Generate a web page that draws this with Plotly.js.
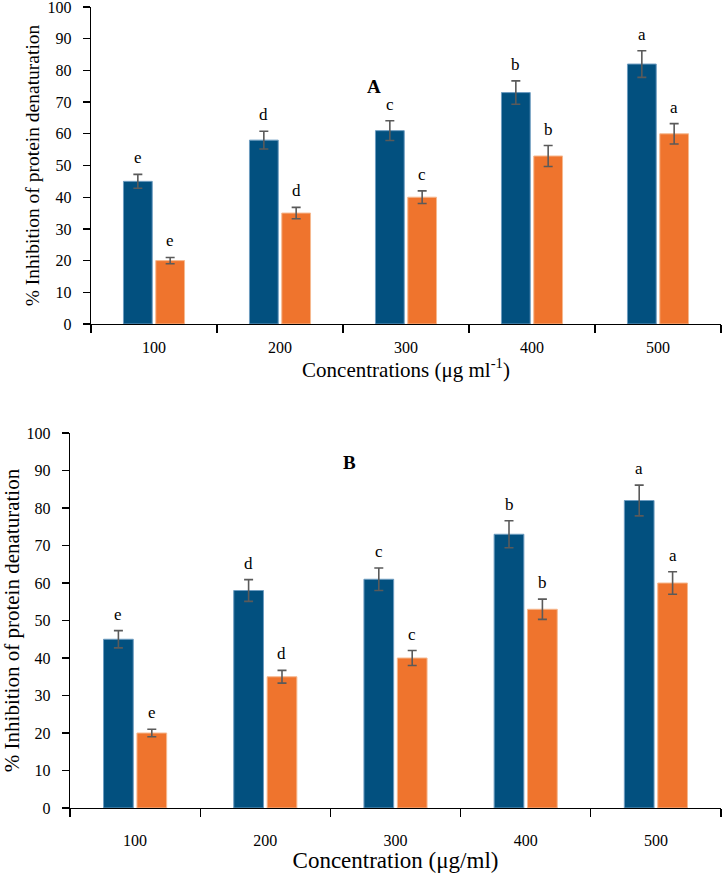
<!DOCTYPE html>
<html>
<head>
<meta charset="utf-8">
<script src="https://cdn.plot.ly/plotly-3.0.1.min.js"></script>
<style>html,body{margin:0;padding:0;background:#fff;}</style>
</head>
<body>
<div id="chart" style="width:723px;height:875px;"></div>
<script>
// Concentration categories shared by both panels
const concentrations = ['100', '200', '300', '400', '500'];

// Panel A
const panelA_series1 = [45, 58, 61, 73, 82];
const panelA_series1Err = [2.2, 2.8, 3.1, 3.7, 4.2];
const panelA_series2 = [20, 35, 40, 53, 60];
const panelA_series2Err = [1.0, 1.8, 2.0, 3.3, 3.2];

// Panel B
const panelB_series1 = [45, 58, 61, 73, 82];
const panelB_series1Err = [2.3, 2.9, 3.0, 3.6, 4.1];
const panelB_series2 = [20, 35, 40, 53, 60];
const panelB_series2Err = [1.0, 1.7, 2.0, 2.7, 3.0];

// Significance letters above each bar
const letters1 = ['e', 'd', 'c', 'b', 'a'];
const letters2 = ['e', 'd', 'c', 'b', 'a'];

const W = 723, H = 875;
const BLUE = '#02507f', ORANGE = '#ef742d', ERR = '#5a5a5a';
const FONT = 'Liberation Serif, Times New Roman, serif';
const BARGAP = 0.487, GROUPGAP = 0.11;

// plot-area pixel boxes
const boxA = {x0: 91, x1: 721, y0: 7, y1: 324};
const boxB = {x0: 70, x1: 721, y0: 433, y1: 808};

function xDom(b) { return [b.x0 / W, b.x1 / W]; }
function yDom(b) { return [1 - b.y1 / H, 1 - b.y0 / H]; }

function barTrace(y, err, color, edge, xa, ya) {
  return {
    type: 'bar', x: concentrations, y: y, xaxis: xa, yaxis: ya,
    marker: {color: color, line: {color: edge, width: 1}},
    error_y: {type: 'data', array: err, visible: true, color: ERR, thickness: 1.6, width: 4.5},
    showlegend: false, hoverinfo: 'skip'
  };
}

const data = [
  barTrace(panelA_series1, panelA_series1Err, BLUE, '#6d9cc0', 'x', 'y'),
  barTrace(panelA_series2, panelA_series2Err, ORANGE, '#f6b990', 'x', 'y'),
  barTrace(panelB_series1, panelB_series1Err, BLUE, '#6d9cc0', 'x2', 'y2'),
  barTrace(panelB_series2, panelB_series2Err, ORANGE, '#f6b990', 'x2', 'y2')
];

// letters sit above the error-bar caps; x is the category index
function letterNotes(box, xa, ya, vals1, err1, vals2, err2, yshift) {
  const slot = (box.x1 - box.x0) / concentrations.length * (1 - BARGAP) / 2;
  const notes = [];
  concentrations.forEach((c, i) => {
    notes.push({x: i, y: vals1[i] + err1[i], xref: xa, yref: ya, text: letters1[i],
      showarrow: false, xanchor: 'center', yanchor: 'bottom', xshift: -slot / 2, yshift: yshift,
      font: {family: FONT, size: 17, color: '#000'}});
    notes.push({x: i, y: vals2[i] + err2[i], xref: xa, yref: ya, text: letters2[i],
      showarrow: false, xanchor: 'center', yanchor: 'bottom', xshift: slot / 2, yshift: yshift,
      font: {family: FONT, size: 17, color: '#000'}});
  });
  return notes;
}

const annotations = [].concat(
  letterNotes(boxA, 'x', 'y', panelA_series1, panelA_series1Err, panelA_series2, panelA_series2Err, 5),
  letterNotes(boxB, 'x2', 'y2', panelB_series1, panelB_series1Err, panelB_series2, panelB_series2Err, 5),
  [
    {x: 374 / W, y: 1 - 86 / H, xref: 'paper', yref: 'paper', text: '<b>A</b>', showarrow: false,
     xanchor: 'center', yanchor: 'middle', font: {family: FONT, size: 19, color: '#000'}},
    {x: 349 / W, y: 1 - 462 / H, xref: 'paper', yref: 'paper', text: '<b>B</b>', showarrow: false,
     xanchor: 'center', yanchor: 'middle', font: {family: FONT, size: 19, color: '#000'}}
  ]
);

function xAxis(box, anchor, title, tsize, standoff, labelStandoff) {
  return {
    domain: xDom(box), anchor: anchor, type: 'category',
    range: [-0.5, concentrations.length - 0.5],
    tickson: 'boundaries', ticks: 'outside', ticklen: 8, tickwidth: 1.3, tickcolor: '#000',
    showline: true, linecolor: '#000', linewidth: 1.3, showgrid: false, zeroline: false,
    ticklabelstandoff: labelStandoff, tickangle: 0,
    tickfont: {family: FONT, size: 16, color: '#000'},
    title: {text: title, font: {family: FONT, size: tsize, color: '#000'}, standoff: standoff},
    automargin: false, fixedrange: true
  };
}

function yAxis(box, anchor, tsize, standoff) {
  return {
    domain: yDom(box), anchor: anchor, range: [0, 100], dtick: 10,
    ticks: 'outside', ticklen: 7, tickwidth: 1.3, tickcolor: '#000',
    showline: true, linecolor: '#000', linewidth: 1.3, showgrid: false, zeroline: false,
    ticklabelstandoff: 8, ticklabeloverflow: 'allow',
    tickfont: {family: FONT, size: 16, color: '#000'},
    title: {text: '% Inhibition of protein denaturation', font: {family: FONT, size: tsize, color: '#000'}, standoff: standoff},
    automargin: false, fixedrange: true
  };
}

const layout = {
  width: W, height: H,
  margin: {l: 0, r: 0, t: 0, b: 0},
  paper_bgcolor: '#fff', plot_bgcolor: '#fff',
  barmode: 'group', bargap: BARGAP, bargroupgap: GROUPGAP,
  showlegend: false,
  xaxis: xAxis(boxA, 'y', 'Concentrations (μg ml<sup>-1</sup>)', 21, 3, 8),
  yaxis: yAxis(boxA, 'x', 19.5, 2),
  xaxis2: xAxis(boxB, 'y2', 'Concentration (μg/ml)', 23, 1, 17),
  yaxis2: yAxis(boxB, 'x2', 21, 8),
  annotations: annotations
};

Plotly.newPlot('chart', data, layout, {staticPlot: true, displayModeBar: false});
</script>
</body>
</html>
